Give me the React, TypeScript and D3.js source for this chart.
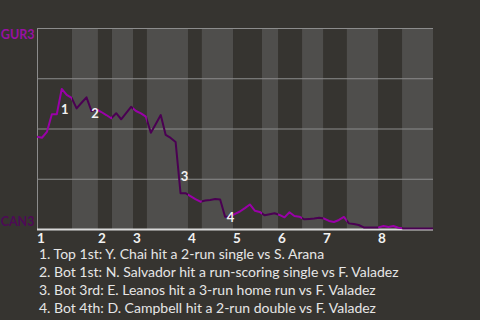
import React from "react";
import * as d3 from "d3";

// Half-inning start positions (in plays)
const topStarts = [0, 12.3, 19.4, 30.5, 39.6, 48.7, 57.8, 68.9];
const botStarts = [7.07, 15.15, 22.2, 33.3, 45.45, 53.55, 62.6, 73.75];
const gameEnd = 80;
const inningLabels = ["1", "2", "3", "4", "5", "6", "7", "8"];

// GUR3 win probability (%) after each play
const winProb = [
  45.9, 45.4, 48.3, 57.1, 57.1, 69.7, 66.7, 65.2, 60.0, 62.8,
  65.5, 58.7, 59.6, 58.2, 56.7, 55.1, 57.6, 54.6, 57.7, 60.8,
  58.7, 57.5, 55.9, 47.9, 52.2, 56.7, 46.8, 45.3, 43.3, 17.8,
  17.8, 16.4, 14.9, 13.6, 14.2, 14.4, 14.9, 14.7, 6.1, 6.1,
  7.5, 8.7, 10.4, 12.2, 9.1, 8.5, 6.8, 7.3, 7.8, 7.0,
  5.8, 8.3, 6.5, 6.1, 4.8, 5.0, 5.2, 5.6, 5.2, 4.0,
  3.5, 4.5, 6.0, 2.8, 2.5, 2.0, 0.8, 0.8, 0.8, 0.8,
  1.5, 1.0, 1.5, 0.6, 0.3, 0.3, 0.3, 0.3, 0.3, 0.3, 0.2,
];

const yTicks = [0, 25, 50, 75, 100];
const teamTop = "GUR3";
const teamBottom = "CAN3";

const annotationLabels = ["1", "2", "3", "4"];
const annotationPlays = [5.6, 11.7, 29.8, 39.1];
const annotationWp = [57.2, 55.4, 23.9, 3.3];

const captions = [
  "1. Top 1st: Y. Chai hit a 2-run single vs S. Arana",
  "2. Bot 1st: N. Salvador hit a run-scoring single vs F. Valadez",
  "3. Bot 3rd: E. Leanos hit a 3-run home run vs F. Valadez",
  "4. Bot 4th: D. Campbell hit a 2-run double vs F. Valadez",
];

const W = 480;
const H = 320;
const BG = "#363430";
const BAND = "#4f4e4c";
const GRID = "#8c8c8c";
const TOP_COLOR = "#9a00a8";
const BOT_COLOR = "#4a0052";
const FONT = "Lato, 'Noto Sans', sans-serif";

export default function App() {
  const x = d3.scaleLinear().domain([0, gameEnd]).range([37, 433]);
  const y = d3.scaleLinear().domain([0, 100]).range([229, 28]);

  const pts = winProb.map((v, i) => [i, v] as [number, number]);
  const line = d3
    .line<[number, number]>()
    .x((d) => x(d[0]))
    .y((d) => y(d[1]));
  const pathD = line(pts) || "";

  const topEnds = botStarts;
  const botEnds = [...topStarts.slice(1), gameEnd];

  return (
    <svg
      width={W}
      height={H}
      style={{ position: "absolute", left: 0, top: 0 }}
      fontFamily={FONT}
    >
      <defs>
        <clipPath id="topClip">
          {topStarts.map((s, i) => (
            <rect key={i} x={x(s)} y={0} width={x(topEnds[i]) - x(s)} height={H} />
          ))}
        </clipPath>
        <clipPath id="botClip">
          {botStarts.map((s, i) => (
            <rect key={i} x={x(s)} y={0} width={x(botEnds[i]) - x(s)} height={H} />
          ))}
        </clipPath>
      </defs>
      <rect x={0} y={0} width={W} height={H} fill={BG} />
      {botStarts.map((s, i) => (
        <rect
          key={i}
          x={x(s)}
          y={y(100)}
          width={x(botEnds[i]) - x(s)}
          height={y(0) - y(100)}
          fill={BAND}
        />
      ))}
      {yTicks.slice(1).map((t) => (
        <line
          key={t}
          x1={x(0)}
          x2={x(gameEnd)}
          y1={y(t) + 0.5}
          y2={y(t) + 0.5}
          stroke={GRID}
          strokeWidth={1}
        />
      ))}
      <line x1={x(0) + 0.5} x2={x(0) + 0.5} y1={y(100)} y2={y(0)} stroke={GRID} strokeWidth={1} />
      <line x1={x(0)} x2={x(gameEnd)} y1={y(0) + 0.5} y2={y(0) + 0.5} stroke="#d8d8d8" strokeWidth={2} />

      <path d={pathD} fill="none" stroke={TOP_COLOR} strokeWidth={2} clipPath="url(#topClip)" strokeLinejoin="round" />
      <path d={pathD} fill="none" stroke={BOT_COLOR} strokeWidth={2} clipPath="url(#botClip)" strokeLinejoin="round" />

      {annotationLabels.map((l, i) => (
        <text
          key={l}
          x={x(annotationPlays[i])}
          y={y(annotationWp[i])}
          textAnchor="middle"
          fill="#f2f2f2"
          fontSize={13}
          fontWeight="bold"
        >
          {l}
        </text>
      ))}

      <text x={34.5} y={38.5} textAnchor="end" fill="#9a10a4" fontSize={12.5} fontWeight="bold">
        {teamTop}
      </text>
      <text x={34.5} y={226} textAnchor="end" fill="#4e0a56" fontSize={12.5} fontWeight="bold">
        {teamBottom}
      </text>

      {inningLabels.map((l, i) => (
        <text key={l} x={x(topStarts[i])} y={242.7} fill="#f2f2f2" fontSize={13.5} fontWeight="bold">
          {l}
        </text>
      ))}

      {captions.map((c, i) => (
        <text key={i} x={39} y={258.5 + i * 18} fill="#e6e6e6" fontSize={14}>
          {c}
        </text>
      ))}
    </svg>
  );
}
